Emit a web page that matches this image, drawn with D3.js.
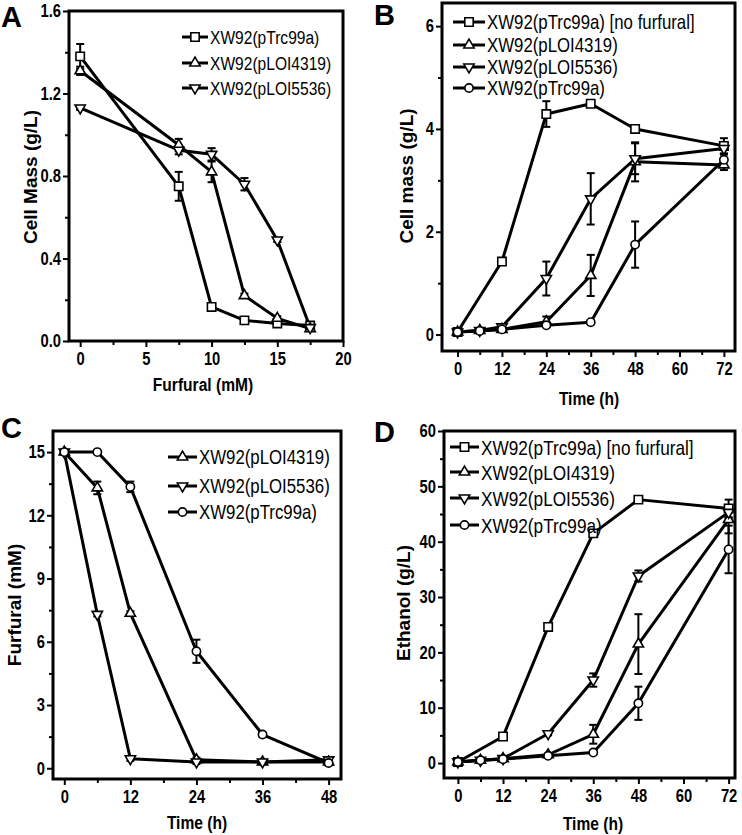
<!DOCTYPE html>
<html>
<head>
<meta charset="utf-8">
<script src="https://cdn.jsdelivr.net/npm/d3@7"></script>
<style>
  body { margin: 0; background: #fff; }
  svg { display: block; }
  .tick text { font-family: "Liberation Sans", Arial, sans-serif; font-weight: bold; font-size: 18px; fill: #000; }
  .tick line { stroke: #000; stroke-width: 2; }
  .title { font-family: "Liberation Sans", Arial, sans-serif; font-weight: bold; font-size: 19px; }
  .ytitle { font-family: "Liberation Sans", Arial, sans-serif; font-weight: bold; font-size: 19px; }
  .legend text { font-family: "Liberation Sans", Arial, sans-serif; }
  .letter { font-family: "Liberation Sans", Arial, sans-serif; font-weight: bold; font-size: 29px; }
</style>
</head>
<body>
<div id="chart"></div>
<script>
/////////////////////////////////////
/// data
/////////////////////////////////////

// A: cell mass vs furfural
var furfuralA = [0, 7.5, 10, 12.5, 15, 17.5];
var massA_pTrc99a = [1.38, 0.75, 0.165, 0.10, 0.085, 0.075];
var errA_pTrc99a = [0.06, 0.07, 0.01, 0.01, 0.01, 0.01];
var massA_pLOI4319 = [1.31, 0.95, 0.82, 0.22, 0.11, 0.06];
var errA_pLOI4319 = [0.02, 0.03, 0.05, 0.01, 0.01, 0.01];
var massA_pLOI5536 = [1.13, 0.925, 0.905, 0.76, 0.49, 0.065];
var errA_pLOI5536 = [0.01, 0.02, 0.03, 0.03, 0.01, 0.01];

// B: cell mass vs time
var hoursB = [0, 6, 12, 24, 36, 48, 72];
var hoursB_noFurfural = [0, 12, 24, 36, 48, 72];
var massB_noFurfural = [0.05, 1.42, 4.29, 4.49, 4.0, 3.67];
var errB_noFurfural = [0.03, 0.04, 0.25, 0.05, 0.05, 0.15];
var massB_pLOI4319 = [0.05, 0.08, 0.1, 0.25, 1.15, 3.36, 3.3];
var errB_pLOI4319 = [0.02, 0.02, 0.03, 0.1, 0.4, 0.38, 0.1];
var massB_pLOI5536 = [0.05, 0.08, 0.15, 1.09, 2.64, 3.42, 3.62];
var errB_pLOI5536 = [0.02, 0.02, 0.03, 0.33, 0.5, 0.3, 0.1];
var massB_pTrc99a = [0.05, 0.07, 0.1, 0.18, 0.24, 1.75, 3.4];
var errB_pTrc99a = [0.02, 0.02, 0.02, 0.03, 0.03, 0.45, 0.1];

// C: furfural vs time
var hoursC = [0, 6, 12, 24, 36, 48];
var furC_pLOI4319 = [15, 13.3, 7.35, 0.4, 0.3, 0.3];
var errC_pLOI4319 = [0.1, 0.3, 0.1, 0.1, 0.1, 0.1];
var furC_pLOI5536 = [15, 7.3, 0.45, 0.3, 0.3, 0.4];
var errC_pLOI5536 = [0.1, 0.1, 0.1, 0.1, 0.1, 0.1];
var furC_pTrc99a = [15, 15, 13.35, 5.55, 1.6, 0.25];
var errC_pTrc99a = [0.1, 0.05, 0.25, 0.55, 0.1, 0.1];

// D: ethanol vs time
var hoursD = [0, 6, 12, 24, 36, 48, 72];
var hoursD_noFurfural = [0, 12, 24, 36, 48, 72];
var ethD_noFurfural = [0.2, 4.8, 24.6, 41.5, 47.6, 46.0];
var errD_noFurfural = [0.2, 0.3, 0.5, 0.5, 0.4, 1.6];
var ethD_pLOI4319 = [0.2, 0.5, 0.8, 1.5, 5.2, 21.5, 44.0];
var errD_pLOI4319 = [0.1, 0.1, 0.1, 0.2, 1.7, 5.4, 2.5];
var ethD_pLOI5536 = [0.2, 0.5, 0.8, 5.3, 15.0, 33.8, 45.3];
var errD_pLOI5536 = [0.1, 0.1, 0.1, 0.3, 1.2, 1.0, 1.0];
var ethD_pTrc99a = [0.2, 0.5, 0.7, 1.3, 1.9, 10.8, 38.6];
var errD_pTrc99a = [0.1, 0.1, 0.1, 0.1, 0.2, 3.0, 4.3];

// tick labels
var ticksA_x = [0, 5, 10, 15, 20], minorA_x = [2.5, 7.5, 12.5, 17.5];
var ticksA_y = [0, 0.4, 0.8, 1.2, 1.6], minorA_y = [0.2, 0.6, 1.0, 1.4];
var ticksT72 = [0, 12, 24, 36, 48, 60, 72], minorT72 = [6, 18, 30, 42, 54, 66];
var ticksB_y = [0, 2, 4, 6], minorB_y = [1, 3, 5];
var ticksC_x = [0, 12, 24, 36, 48], minorC_x = [6, 18, 30, 42];
var ticksC_y = [0, 3, 6, 9, 12, 15], minorC_y = [1.5, 4.5, 7.5, 10.5, 13.5];
var ticksD_y = [0, 10, 20, 30, 40, 50, 60], minorD_y = [5, 15, 25, 35, 45, 55];

var NAME_NF = "XW92(pTrc99a) [no furfural]";
var NAME_4319 = "XW92(pLOI4319)";
var NAME_5536 = "XW92(pLOI5536)";
var NAME_TRC = "XW92(pTrc99a)";

// the source figure is squeezed sideways, so horizontal text is narrowed
var SQUEEZE = 0.82;

/////////////////////////////////////
/// reusable panel
/////////////////////////////////////

var Panel = function(opt) {
  this.svg = opt.svg;
  this.frame = opt.frame;
  this.xDomain = opt.xDomain;
  this.yDomain = opt.yDomain;
  this.xTicks = opt.xTicks;
  this.xMinor = opt.xMinor;
  this.yTicks = opt.yTicks;
  this.yMinor = opt.yMinor;
  this.yFormat = opt.yFormat;
  this.series = opt.series;
  this.legend = opt.legend;
  this.xTitle = opt.xTitle;
  this.yTitle = opt.yTitle;
  this.letter = opt.letter;
  this.draw();
};

Panel.prototype.draw = function() {
  this.plot = this.svg.append('g');
  this.generateScales();
  this.addAxis();
  this.addFrame();
  this.generateSeries();
  this.addLegend();
  this.addTitles();
};

Panel.prototype.generateScales = function() {
  var f = this.frame;
  this.xScale = d3.scaleLinear().domain(this.xDomain).range([f.left, f.right]);
  this.yScale = d3.scaleLinear().domain(this.yDomain).range([f.bottom, f.top]);
};

Panel.prototype.addAxis = function() {
  var f = this.frame;
  var xAxis = d3.axisBottom(this.xScale).tickValues(this.xTicks).tickSize(6).tickPadding(5).tickFormat(d3.format('d'));
  var xMinorAxis = d3.axisBottom(this.xScale).tickValues(this.xMinor).tickSize(4).tickFormat('');
  var yAxis = d3.axisLeft(this.yScale).tickValues(this.yTicks).tickSize(6).tickPadding(2).tickFormat(this.yFormat);
  var yMinorAxis = d3.axisLeft(this.yScale).tickValues(this.yMinor).tickSize(4).tickFormat('');

  var gx = this.plot.append('g').attr('transform', 'translate(0,' + f.bottom + ')').call(xAxis);
  this.plot.append('g').attr('transform', 'translate(0,' + f.bottom + ')').call(xMinorAxis);
  var gy = this.plot.append('g').attr('transform', 'translate(' + f.left + ',0)').call(yAxis);
  this.plot.append('g').attr('transform', 'translate(' + f.left + ',0)').call(yMinorAxis);
  this.plot.selectAll('.domain').remove();

  gx.selectAll('.tick text').attr('transform', 'scale(' + SQUEEZE + ',1)');
  gy.selectAll('.tick text').attr('x', -8 / SQUEEZE).attr('transform', 'scale(' + SQUEEZE + ',1)');
};

Panel.prototype.addFrame = function() {
  var f = this.frame;
  this.plot.append('rect')
    .attr('x', f.left).attr('y', f.top)
    .attr('width', f.right - f.left).attr('height', f.bottom - f.top)
    .attr('fill', 'none').attr('stroke', '#000').attr('stroke-width', 3);
};

function markerPath(type) {
  if (type == 'square') return d3.symbol(d3.symbolSquare, 70)();
  if (type == 'circle') return d3.symbol(d3.symbolCircle, 54)();
  return d3.symbol(d3.symbolTriangle, 46)();
}

function drawMarker(sel, type) {
  sel.append('path')
    .attr('d', markerPath(type))
    .attr('transform', function(d) {
      var t = 'translate(' + d.px + ',' + d.py + ')';
      return type == 'triangleDown' ? t + ' rotate(180)' : t;
    })
    .attr('fill', '#fff')
    .attr('stroke', '#000')
    .attr('stroke-width', 1.6);
}

Panel.prototype.generateSeries = function() {
  var that = this;
  var pts = this.series.map(function(s) {
    return s.x.map(function(x, i) {
      return {
        px: that.xScale(x), py: that.yScale(s.y[i]),
        lo: that.yScale(s.y[i] - s.err[i]), hi: that.yScale(s.y[i] + s.err[i])
      };
    });
  });

  // error bars
  pts.forEach(function(p) {
    var g = that.plot.append('g').attr('stroke', '#000').attr('stroke-width', 2);
    p.forEach(function(d) {
      g.append('line').attr('x1', d.px).attr('x2', d.px).attr('y1', d.lo).attr('y2', d.hi);
      g.append('line').attr('x1', d.px - 4).attr('x2', d.px + 4).attr('y1', d.lo).attr('y2', d.lo);
      g.append('line').attr('x1', d.px - 4).attr('x2', d.px + 4).attr('y1', d.hi).attr('y2', d.hi);
    });
  });

  // lines
  var line = d3.line().x(function(d) { return d.px; }).y(function(d) { return d.py; });
  pts.forEach(function(p) {
    that.plot.append('path').attr('d', line(p))
      .attr('fill', 'none').attr('stroke', '#000').attr('stroke-width', 3)
      .attr('stroke-linejoin', 'round');
  });

  // markers
  pts.forEach(function(p, i) {
    var sel = that.plot.append('g').selectAll('g').data(p).enter().append('g');
    drawMarker(sel, that.series[i].symbol);
  });
};

Panel.prototype.addLegend = function() {
  var lg = this.legend;
  var g = this.plot.append('g').attr('class', 'legend');
  this.series.forEach(function(s, i) {
    var y = lg.rows[i];
    g.append('line').attr('x1', lg.x).attr('x2', lg.x + lg.len)
      .attr('y1', y).attr('y2', y).attr('stroke', '#000').attr('stroke-width', 3);
    var m = g.append('g').datum({ px: lg.x + lg.len / 2, py: y });
    drawMarker(m, s.symbol);
    g.append('text')
      .attr('transform', 'translate(' + (lg.x + lg.len + 2) + ',' + (y + lg.size * 0.36) + ') scale(' + SQUEEZE + ',1)')
      .attr('font-size', lg.size).text(s.name);
  });
};

Panel.prototype.addTitles = function() {
  var t = this.xTitle, u = this.yTitle, l = this.letter;
  this.plot.append('text').attr('class', 'title').attr('text-anchor', 'middle')
    .attr('transform', 'translate(' + t.x + ',' + t.y + ') scale(' + SQUEEZE + ',1)').text(t.text);
  this.plot.append('text').attr('class', 'ytitle').attr('text-anchor', 'middle')
    .attr('transform', 'translate(' + u.x + ',' + u.y + ') rotate(-90)').text(u.text);
  this.plot.append('text').attr('class', 'letter').attr('x', l.x).attr('y', l.y).text(l.text);
};

/////////////////////////////////////
/// build the four panels
/////////////////////////////////////

var svg = d3.select('#chart').append('svg').attr('width', 742).attr('height', 835);
svg.append('rect').attr('width', 742).attr('height', 835).attr('fill', '#fff');

new Panel({
  svg: svg,
  frame: { left: 69, top: 11, right: 343, bottom: 341 },
  xDomain: [-0.85, 20], yDomain: [0, 1.6],
  xTicks: ticksA_x, xMinor: minorA_x, yTicks: ticksA_y, yMinor: minorA_y,
  yFormat: d3.format('.1f'),
  series: [
    { name: NAME_TRC, symbol: 'square', x: furfuralA, y: massA_pTrc99a, err: errA_pTrc99a },
    { name: NAME_4319, symbol: 'triangle', x: furfuralA, y: massA_pLOI4319, err: errA_pLOI4319 },
    { name: NAME_5536, symbol: 'triangleDown', x: furfuralA, y: massA_pLOI5536, err: errA_pLOI5536 }
  ],
  legend: { x: 182, len: 26, size: 19, rows: [37, 63, 88] },
  xTitle: { text: 'Furfural (mM)', x: 203, y: 391 },
  yTitle: { text: 'Cell Mass (g/L)', x: 37, y: 177 },
  letter: { text: 'A', x: 1, y: 27 }
});

new Panel({
  svg: svg,
  frame: { left: 442, top: 3, right: 735, bottom: 351 },
  xDomain: [-4.2, 75], yDomain: [-0.32, 6.45],
  xTicks: ticksT72, xMinor: minorT72, yTicks: ticksB_y, yMinor: minorB_y,
  yFormat: d3.format('d'),
  series: [
    { name: NAME_NF, symbol: 'square', x: hoursB_noFurfural, y: massB_noFurfural, err: errB_noFurfural },
    { name: NAME_4319, symbol: 'triangle', x: hoursB, y: massB_pLOI4319, err: errB_pLOI4319 },
    { name: NAME_5536, symbol: 'triangleDown', x: hoursB, y: massB_pLOI5536, err: errB_pLOI5536 },
    { name: NAME_TRC, symbol: 'circle', x: hoursB, y: massB_pTrc99a, err: errB_pTrc99a }
  ],
  legend: { x: 453, len: 32, size: 20.5, rows: [22, 45, 67, 88] },
  xTitle: { text: 'Time (h)', x: 589, y: 405 },
  yTitle: { text: 'Cell mass (g/L)', x: 413, y: 176 },
  letter: { text: 'B', x: 374, y: 25 }
});

new Panel({
  svg: svg,
  frame: { left: 53, top: 431, right: 341, bottom: 779 },
  xDomain: [-2.05, 50.25], yDomain: [-0.51, 16],
  xTicks: ticksC_x, xMinor: minorC_x, yTicks: ticksC_y, yMinor: minorC_y,
  yFormat: d3.format('d'),
  series: [
    { name: NAME_4319, symbol: 'triangle', x: hoursC, y: furC_pLOI4319, err: errC_pLOI4319 },
    { name: NAME_5536, symbol: 'triangleDown', x: hoursC, y: furC_pLOI5536, err: errC_pLOI5536 },
    { name: NAME_TRC, symbol: 'circle', x: hoursC, y: furC_pTrc99a, err: errC_pTrc99a }
  ],
  legend: { x: 168, len: 29, size: 20.5, rows: [457, 486, 512] },
  xTitle: { text: 'Time (h)', x: 197, y: 829 },
  yTitle: { text: 'Furfural (mM)', x: 21, y: 605 },
  letter: { text: 'C', x: 1, y: 438 }
});

new Panel({
  svg: svg,
  frame: { left: 444, top: 431, right: 735, bottom: 778 },
  xDomain: [-3.7, 73.7], yDomain: [-2.7, 60],
  xTicks: ticksT72, xMinor: minorT72, yTicks: ticksD_y, yMinor: minorD_y,
  yFormat: d3.format('d'),
  series: [
    { name: NAME_NF, symbol: 'square', x: hoursD_noFurfural, y: ethD_noFurfural, err: errD_noFurfural },
    { name: NAME_4319, symbol: 'triangle', x: hoursD, y: ethD_pLOI4319, err: errD_pLOI4319 },
    { name: NAME_5536, symbol: 'triangleDown', x: hoursD, y: ethD_pLOI5536, err: errD_pLOI5536 },
    { name: NAME_TRC, symbol: 'circle', x: hoursD, y: ethD_pTrc99a, err: errD_pTrc99a }
  ],
  legend: { x: 450, len: 29, size: 21, rows: [447, 472, 498, 525] },
  xTitle: { text: 'Time (h)', x: 593, y: 830 },
  yTitle: { text: 'Ethanol (g/L)', x: 410, y: 603 },
  letter: { text: 'D', x: 374, y: 442 }
});
</script>
</body>
</html>
